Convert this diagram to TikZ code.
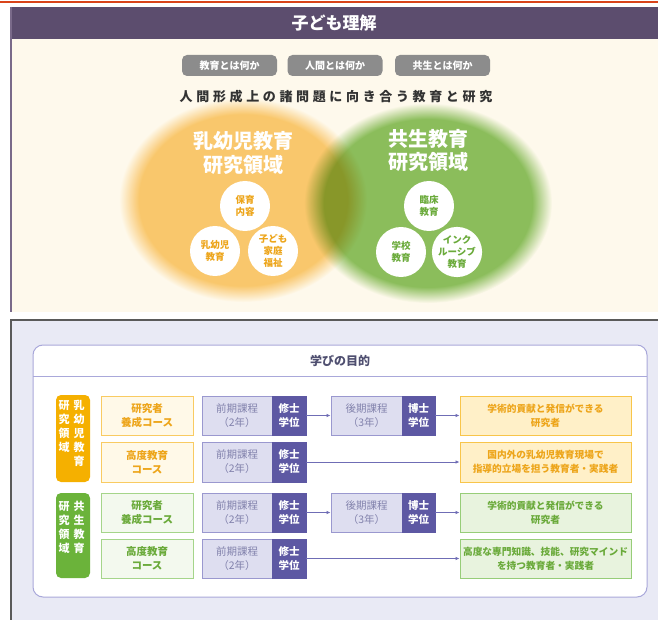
\documentclass[tikz,border=0pt]{standalone}
\usepackage{fontspec}
\setmainfont{Noto Sans CJK JP}
\usetikzlibrary{arrows.meta}
\definecolor{topline}{HTML}{D9441A}
\definecolor{hdr}{HTML}{5C4D6E}
\definecolor{hdrborder}{HTML}{7A6A8A}
\definecolor{cream}{HTML}{FEF9EC}
\definecolor{pill}{HTML}{8C8C8C}
\definecolor{captxt}{HTML}{333333}
\definecolor{vennOc}{HTML}{FACC75}
\definecolor{vennGc}{HTML}{8CC263}
\definecolor{otxt}{HTML}{EDA51A}
\definecolor{gtxt}{HTML}{6AAA3A}
\definecolor{lowbg}{HTML}{E9EAF5}
\definecolor{lowborder}{HTML}{5A5A5A}
\definecolor{innerborder}{HTML}{A9A8DA}
\definecolor{titletxt}{HTML}{4F4F70}
\definecolor{olab}{HTML}{F5B000}
\definecolor{glab}{HTML}{6BB33A}
\definecolor{ocfill}{HTML}{FFF9E8}
\definecolor{ocdraw}{HTML}{F9CB62}
\definecolor{gcfill}{HTML}{F3F9EE}
\definecolor{gcdraw}{HTML}{A5D58A}
\definecolor{lavfill}{HTML}{DEDEF0}
\definecolor{lavdraw}{HTML}{9A98CF}
\definecolor{lavtxt}{HTML}{8282AC}
\definecolor{purp}{HTML}{5D58A3}
\definecolor{orfill}{HTML}{FFF0C8}
\definecolor{ordraw}{HTML}{F8C54A}
\definecolor{grfill}{HTML}{E8F3DE}
\definecolor{grdraw}{HTML}{97CD78}
\definecolor{arrc}{HTML}{6F6DB5}
\pgfdeclareradialshading{vennO}{\pgfpointorigin}{color(0bp)=(vennOc); color(21bp)=(vennOc); color(25bp)=(white); color(50bp)=(white)}
\pgfdeclareradialshading{vennG}{\pgfpointorigin}{color(0bp)=(vennGc); color(21bp)=(vennGc); color(25bp)=(white); color(50bp)=(white)}
\tikzset{
  pillbox/.style={fill=pill, rounded corners=5pt, minimum width=95pt, minimum height=21pt, inner sep=0pt,
    text=white, font=\fontsize{10}{12}\selectfont\bfseries},
  wcirc/.style={circle, fill=white, minimum size=50pt, inner sep=0pt, align=center,
    font=\fontsize{9.5}{12}\selectfont\bfseries},
  bx/.style={rectangle, draw, line width=0.9pt, inner sep=0pt, align=center,
    font=\fontsize{10.5}{14}\selectfont},
  ocourse/.style={bx, fill=ocfill, draw=ocdraw, text=otxt, minimum width=92pt, font=\fontsize{10.5}{14}\selectfont\bfseries},
  gcourse/.style={bx, fill=gcfill, draw=gcdraw, text=gtxt, minimum width=92pt, font=\fontsize{10.5}{14}\selectfont\bfseries},
  lav/.style={bx, fill=lavfill, draw=lavdraw, text=lavtxt},
  deg/.style={bx, fill=purp, draw=purp, text=white, font=\fontsize{10.5}{14}\selectfont\bfseries},
  ores/.style={bx, fill=orfill, draw=ordraw, text=otxt, minimum width=171pt, font=\fontsize{9.7}{14}\selectfont\bfseries},
  gres/.style={bx, fill=grfill, draw=grdraw, text=gtxt, minimum width=171pt, font=\fontsize{9.7}{14}\selectfont\bfseries},
  vcol/.style={anchor=north, inner sep=0pt, align=center, text=white, font=\fontsize{11}{14}\selectfont\bfseries},
  arr/.style={draw=arrc, line width=0.8pt, -{Latex[length=4pt,width=3.5pt]}},
  ln/.style={draw=arrc, line width=0.8pt}
}
\begin{document}
\begin{tikzpicture}[x=1pt,y=-1pt]
\useasboundingbox (0,0) rectangle (658,620);
\fill[white] (0,0) rectangle (658,620);
% top line
\draw[topline, line width=1.5pt] (0,2) -- (658,2);
% top panel
\fill[cream] (10,39) rectangle (658,312);
\fill[hdr] (10,7) rectangle (658,39);
\draw[hdrborder, line width=1.5pt] (10.75,7) -- (10.75,312);
\node[text=white, font=\fontsize{17}{20}\selectfont\bfseries] (head) at (334,23) {子ども理解};
% pills
\node[pillbox] (p1) at (229.5,65.5) {教育とは何か};
\node[pillbox] (p2) at (335,65.5) {人間とは何か};
\node[pillbox] (p3) at (442.5,65.5) {共生とは何か};
\node[text=captxt, font=\fontsize{13}{15}\selectfont\bfseries\addfontfeatures{LetterSpace=28}] (cap) at (336,97) {人間形成上の諸問題に向き合う教育と研究};
% venn
\begin{scope}[blend mode=multiply]
\shade[shading=vennO] (243,200) ellipse [x radius=124, y radius=102];
\shade[shading=vennG] (428,203) ellipse [x radius=124, y radius=100];
\end{scope}
\node[text=white, align=center, font=\fontsize{20}{23.5}\selectfont\bfseries] (ot) at (243,153) {乳幼児教育\\研究領域};
\node[text=white, align=center, font=\fontsize{20}{23.5}\selectfont\bfseries] (gt) at (428,150.5) {共生教育\\研究領域};
\node[wcirc, text=otxt] (o1) at (245,206) {保育\\内容};
\node[wcirc, text=otxt] (o2) at (215,251) {乳幼児\\教育};
\node[wcirc, text=otxt] (o3) at (273,251) {子ども\\家庭\\福祉};
\node[wcirc, text=gtxt] (g1) at (429,206) {臨床\\教育};
\node[wcirc, text=gtxt] (g2) at (401,252) {学校\\教育};
\node[wcirc, text=gtxt] (g3) at (457,252) {インク\\ルーシブ\\教育};
% lower panel
\fill[lowbg] (10,319) rectangle (658,620);
\draw[lowborder, line width=1.5pt] (10.75,620) -- (10.75,319.75) -- (658,319.75);
\draw[innerborder, fill=white, line width=1pt, rounded corners=10pt] (33,345) rectangle (647,597);
\draw[innerborder, line width=1pt] (33,376) -- (647,376);
\node[text=titletxt, font=\fontsize{12}{14}\selectfont\bfseries] (ttl) at (340,361) {学びの目的};
% labels
\node[fill=olab, rounded corners=5pt, minimum width=34pt, minimum height=87pt, inner sep=0pt] (ol) at (73,438.5) {};
\node[vcol] (olr) at (79,400) {乳\\幼\\児\\教\\育};
\node[vcol] (oll) at (64,400) {研\\究\\領\\域};
\node[fill=glab, rounded corners=5pt, minimum width=34pt, minimum height=85pt, inner sep=0pt] (gl) at (73,535.5) {};
\node[vcol] (glr) at (79,501) {共\\生\\教\\育};
\node[vcol] (gll) at (64,501) {研\\究\\領\\域};
% row 1
\node[ocourse, minimum height=39pt] (c1) at (147,415.5) {研究者\\養成コース};
\node[lav, minimum width=70pt, minimum height=39pt] (z1) at (237,415.5) {前期課程\\（2年）};
\node[deg, minimum width=34pt, minimum height=39pt] (s1) at (289,415.5) {修士\\学位};
\node[lav, minimum width=71pt, minimum height=39pt] (k1) at (366.5,415.5) {後期課程\\（3年）};
\node[deg, minimum width=33pt, minimum height=39pt] (h1) at (418.5,415.5) {博士\\学位};
\node[ores, minimum height=39pt] (r1) at (545.5,415.5) {学術的貢献と発信ができる\\研究者};
% row 2
\node[ocourse, minimum height=40pt] (c2) at (147,462) {高度教育\\コース};
\node[lav, minimum width=70pt, minimum height=40pt] (z2) at (237,462) {前期課程\\（2年）};
\node[deg, minimum width=34pt, minimum height=40pt] (s2) at (289,462) {修士\\学位};
\node[ores, minimum height=40pt] (r2) at (545.5,462) {国内外の乳幼児教育現場で\\指導的立場を担う教育者・実践者};
% row 3
\node[gcourse, minimum height=39pt] (c3) at (147,512.5) {研究者\\養成コース};
\node[lav, minimum width=70pt, minimum height=39pt] (z3) at (237,512.5) {前期課程\\（2年）};
\node[deg, minimum width=34pt, minimum height=39pt] (s3) at (289,512.5) {修士\\学位};
\node[lav, minimum width=71pt, minimum height=39pt] (k3) at (366.5,512.5) {後期課程\\（3年）};
\node[deg, minimum width=33pt, minimum height=39pt] (h3) at (418.5,512.5) {博士\\学位};
\node[gres, minimum height=39pt] (r3) at (545.5,512.5) {学術的貢献と発信ができる\\研究者};
% row 4
\node[gcourse, minimum height=39pt] (c4) at (147,558.5) {高度教育\\コース};
\node[lav, minimum width=70pt, minimum height=39pt] (z4) at (237,558.5) {前期課程\\（2年）};
\node[deg, minimum width=34pt, minimum height=39pt] (s4) at (289,558.5) {修士\\学位};
\node[gres, minimum height=39pt] (r4) at (545.5,558.5) {高度な専門知識、技能、研究マインド\\を持つ教育者・実践者};
% arrows
\draw[arr] (s1.east) -- (k1.west);
\draw[arr] (h1.east) -- (r1.west);
\draw[arr] (s2.east) -- (r2.west);
\draw[arr] (s3.east) -- (k3.west);
\draw[arr] (h3.east) -- (r3.west);
\draw[arr] (s4.east) -- (r4.west);
\end{tikzpicture}
\end{document}
